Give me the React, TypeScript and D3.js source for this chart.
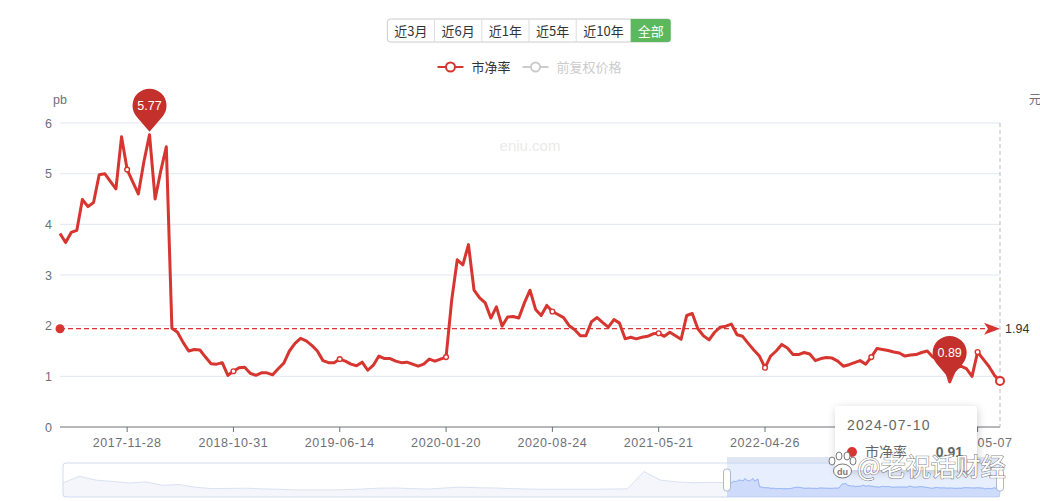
import { useEffect, useRef } from 'react';
import * as d3 from 'd3';

// ---- data ----
const rangeButtons = ['近3月', '近6月', '近1年', '近5年', '近10年', '全部'];
const activeButton = '全部';

const legendNames = ['市净率', '前复权价格'];
const activeLegend = '市净率';

const yTicks = [0, 1, 2, 3, 4, 5, 6];

// category index of each labelled tick, and its label ('' = hidden under tooltip)
const tickIndices = [12, 31, 50, 69, 88, 107, 126, 145, 164];
const tickLabels = ['2017-11-28', '2018-10-31', '2019-06-14', '2020-01-20', '2020-08-24', '2021-05-21', '2022-04-26', '', '2024-05-07'];

// PB, sampled along the visible window (evenly spaced categories)
const pbValues = [
  3.82, 3.64, 3.84, 3.88, 4.49, 4.35, 4.43, 4.98, 5.0, 4.85,
  4.7, 5.73, 5.08, 4.84, 4.6, 5.24, 5.77, 4.5, 5.05, 5.53,
  1.95, 1.87, 1.67, 1.5, 1.53, 1.52, 1.38, 1.25, 1.24, 1.27,
  1.02, 1.1, 1.17, 1.18, 1.06, 1.02, 1.07, 1.07, 1.03, 1.15,
  1.26, 1.5, 1.65, 1.75, 1.7, 1.61, 1.5, 1.31, 1.27, 1.27,
  1.34, 1.3, 1.24, 1.21, 1.28, 1.12, 1.22, 1.4, 1.35, 1.35,
  1.3, 1.27, 1.28, 1.24, 1.2, 1.24, 1.34, 1.3, 1.34, 1.38,
  2.5, 3.3, 3.2, 3.6, 2.7, 2.55, 2.45, 2.15, 2.37, 1.99,
  2.17, 2.18, 2.15, 2.45, 2.7, 2.32, 2.2, 2.4, 2.28, 2.22,
  2.16, 2.0, 1.92, 1.8, 1.8, 2.08, 2.16, 2.06, 1.97, 2.12,
  2.05, 1.74, 1.77, 1.74, 1.77, 1.79, 1.84, 1.85, 1.79, 1.87,
  1.8, 1.73, 2.2, 2.24, 1.94, 1.8, 1.72, 1.87, 1.97, 1.99,
  2.03, 1.82, 1.79, 1.65, 1.52, 1.4, 1.17, 1.4, 1.5, 1.63,
  1.56, 1.43, 1.43, 1.47, 1.44, 1.31, 1.35, 1.37, 1.36, 1.3,
  1.2, 1.23, 1.27, 1.31, 1.24, 1.38, 1.55, 1.53, 1.51, 1.48,
  1.46, 1.4, 1.42, 1.43, 1.47, 1.5, 1.38, 1.31, 1.26, 0.89,
  1.15, 1.2, 1.15, 1.0, 1.48, 1.34, 1.2, 1.02, 0.91,
];

// earlier history, only seen as the data shadow in the zoom slider
const historyPbValues = [
  3.7, 6.8, 5.0, 4.4, 3.7, 4.2, 2.6, 3.0, 1.7, 1.1,
  1.2, 1.3, 1.0, 0.8, 0.5, 0.5, 0.5, 0.6, 0.9, 1.3,
  1.4, 1.1, 0.9, 1.4, 1.8, 1.5, 1.4, 1.1, 0.9, 0.8,
  0.8, 0.8, 0.8, 0.9, 1.0, 9.0, 5.0, 4.2, 3.8, 4.0,
];

const averagePb = 1.94;
const tooltipDate = '2024-07-10';
const tooltipValue = 0.91;

export default function App() {
  const svgRef = useRef<SVGSVGElement>(null);

  useEffect(() => {
    if (!svgRef.current) return;
    const svg = d3.select(svgRef.current);
    svg.selectAll('*').remove();

    const width = 1040;
    const height = 501;
    const plot = { left: 60, right: 1000, top: 123, bottom: 427 };
    const red = '#d7352f';
    const pinRed = '#c4302b';
    const axisGrey = '#6e7079';
    const latin = 'Arial, "Liberation Sans", Helvetica, "Noto Sans CJK SC", sans-serif';
    const cjk = '"Noto Sans CJK SC", "Noto Sans", sans-serif';

    svg.attr('width', width).attr('height', height).attr('viewBox', `0 0 ${width} ${height}`)
      .style('font-family', latin).style('background', '#fff');

    const defs = svg.append('defs');
    const shadow = defs.append('filter').attr('id', 'tipShadow')
      .attr('x', '-20%').attr('y', '-30%').attr('width', '140%').attr('height', '160%');
    shadow.append('feDropShadow').attr('dx', 1).attr('dy', 2).attr('stdDeviation', 4)
      .attr('flood-color', '#000').attr('flood-opacity', 0.18);

    // Range buttons
    const btnG = svg.append('g');
    const btnBg = btnG.append('g');
    const btnTexts = rangeButtons.map(label => {
      const t = btnG.append('text').attr('y', 35.5).style('font-family', cjk).style('font-size', '13px').text(label);
      return { label, t, w: (t.node() as SVGTextElement).getComputedTextLength() + 14 };
    });
    const totalW = d3.sum(btnTexts, b => b.w);
    const btnTop = 19, btnH = 23;
    const bx0 = 529 - totalW / 2;
    btnBg.append('rect').attr('x', bx0).attr('y', btnTop).attr('width', totalW).attr('height', btnH)
      .attr('rx', 3).attr('fill', '#fff').attr('stroke', '#ccc');
    let bx = bx0;
    btnTexts.forEach((b, i) => {
      const active = b.label === activeButton;
      if (active) {
        btnBg.append('path')
          .attr('d', `M${bx},${btnTop} H${bx + b.w - 3} Q${bx + b.w},${btnTop} ${bx + b.w},${btnTop + 3} V${btnTop + btnH - 3} Q${bx + b.w},${btnTop + btnH} ${bx + b.w - 3},${btnTop + btnH} H${bx} Z`)
          .attr('fill', '#5cb85c');
      } else if (i > 0) {
        btnBg.append('line').attr('x1', bx).attr('x2', bx).attr('y1', btnTop).attr('y2', btnTop + btnH)
          .attr('stroke', '#ddd');
      }
      b.t.attr('x', bx + b.w / 2).attr('text-anchor', 'middle').attr('fill', active ? '#fff' : '#333');
      bx += b.w;
    });

    // Legend
    const legG = svg.append('g');
    const legItems = legendNames.map(name => {
      const t = legG.append('text').attr('y', 72).style('font-family', cjk).style('font-size', '13px').text(name);
      return { name, t, tw: (t.node() as SVGTextElement).getComputedTextLength() };
    });
    const legTotal = d3.sum(legItems, d => 26 + 8 + d.tw) + 12 * (legItems.length - 1);
    let lx = 529.5 - legTotal / 2;
    legItems.forEach(item => {
      const color = item.name === activeLegend ? red : '#ccc';
      legG.append('line').attr('x1', lx).attr('x2', lx + 26).attr('y1', 67).attr('y2', 67)
        .attr('stroke', color).attr('stroke-width', 2);
      legG.append('circle').attr('cx', lx + 13).attr('cy', 67).attr('r', 4.5)
        .attr('fill', '#fff').attr('stroke', color).attr('stroke-width', 2);
      item.t.attr('x', lx + 34).attr('fill', item.name === activeLegend ? '#333' : '#ccc');
      lx += 26 + 8 + item.tw + 12;
    });

    // Scales
    const x = d3.scaleLinear().domain([0, pbValues.length - 1]).range([plot.left, plot.right]);
    const y = d3.scaleLinear().domain([0, 6]).range([plot.bottom, plot.top]);

    // Grid lines
    svg.append('g').selectAll('line').data(yTicks.filter(t => t > 0)).enter().append('line')
      .attr('x1', plot.left).attr('x2', plot.right)
      .attr('y1', d => y(d)).attr('y2', d => y(d))
      .attr('stroke', '#e0e6f1');

    // Watermark
    svg.append('text').attr('x', 530).attr('y', 151).attr('text-anchor', 'middle')
      .style('font-size', '15px').attr('fill', '#ebebeb').text('eniu.com');

    // Y labels
    svg.append('g').selectAll('text').data(yTicks).enter().append('text')
      .attr('x', 52).attr('y', d => y(d)).attr('dy', '0.36em').attr('text-anchor', 'end')
      .style('font-size', '12.5px').attr('fill', axisGrey).text(d => d);
    svg.append('text').attr('x', 60).attr('y', 104).attr('text-anchor', 'middle')
      .style('font-size', '12.5px').attr('fill', axisGrey).text('pb');
    svg.append('text').attr('x', 1035).attr('y', 104).attr('text-anchor', 'middle')
      .style('font-family', cjk).style('font-size', '12.5px').attr('fill', axisGrey).text('元');

    // X axis
    svg.append('line').attr('x1', plot.left).attr('x2', plot.right).attr('y1', plot.bottom).attr('y2', plot.bottom)
      .attr('stroke', axisGrey);
    const xTicks = tickIndices.map((idx, i) => ({ idx, label: tickLabels[i] }));
    svg.append('g').selectAll('line').data(xTicks).enter().append('line')
      .attr('x1', d => x(d.idx)).attr('x2', d => x(d.idx))
      .attr('y1', plot.bottom).attr('y2', plot.bottom + 5).attr('stroke', axisGrey);
    svg.append('g').selectAll('text').data(xTicks).enter().append('text')
      .attr('x', d => x(d.idx)).attr('y', 447).attr('text-anchor', 'middle')
      .style('font-size', '12.5px').style('letter-spacing', '0.6px').attr('fill', axisGrey)
      .text(d => d.label);

    // Average mark line
    const avgY = y(averagePb);
    svg.append('line').attr('x1', plot.left).attr('x2', plot.right - 12).attr('y1', avgY).attr('y2', avgY)
      .attr('stroke', red).attr('stroke-width', 1.3).attr('stroke-dasharray', '5,3');
    svg.append('circle').attr('cx', plot.left).attr('cy', avgY).attr('r', 4.5).attr('fill', red);
    svg.append('path')
      .attr('d', `M${plot.right - 16},${avgY - 6} L${plot.right},${avgY} L${plot.right - 16},${avgY + 6} L${plot.right - 12},${avgY} Z`)
      .attr('fill', red);
    svg.append('text').attr('x', 1005).attr('y', avgY + 4.5)
      .style('font-size', '12.5px').attr('fill', '#333').text(averagePb.toFixed(2));

    // Axis pointer (hovered last point)
    const last = pbValues.length - 1;
    svg.append('line').attr('x1', x(last)).attr('x2', x(last)).attr('y1', plot.top).attr('y2', plot.bottom)
      .attr('stroke', '#bbb').attr('stroke-dasharray', '4,3');

    // PB line
    const line = d3.line<number>().x((_, i) => x(i)).y(d => y(d));
    svg.append('path').datum(pbValues).attr('d', line)
      .attr('fill', 'none').attr('stroke', red).attr('stroke-width', 3)
      .attr('stroke-linejoin', 'round');

    // symbols at labelled categories
    svg.append('g').selectAll('circle').data(tickIndices).enter().append('circle')
      .attr('cx', d => x(d)).attr('cy', d => y(pbValues[d])).attr('r', 2.4)
      .attr('fill', '#fff').attr('stroke', red).attr('stroke-width', 1.4);
    svg.append('circle').attr('cx', x(last)).attr('cy', y(pbValues[last])).attr('r', 4)
      .attr('fill', '#fff').attr('stroke', red).attr('stroke-width', 2);

    // Max / min pins
    const pinPath = () => {
      const r = 17, cy = -29, tip = -3;
      const d = tip - cy;
      const phi = Math.acos(r / d);
      const tx = r * Math.sin(phi), ty = cy + r * Math.cos(phi);
      return `M0,${tip} L${tx},${ty} A${r},${r} 0 1 0 ${-tx},${ty} Z`;
    };
    const extremes = [d3.maxIndex(pbValues), d3.minIndex(pbValues)];
    extremes.forEach(i => {
      const g = svg.append('g').attr('transform', `translate(${x(i)},${y(pbValues[i])})`);
      g.append('path').attr('d', pinPath()).attr('fill', pinRed);
      g.append('text').attr('y', -24.5).attr('text-anchor', 'middle')
        .style('font-size', '12.5px').attr('fill', '#fff').text(pbValues[i].toFixed(2));
    });

    // Zoom slider
    const sl = { left: 63, right: 1000, top: 463, bottom: 497, split: 727 };
    const hx = d3.scaleLinear().domain([0, historyPbValues.length]).range([sl.left, sl.split]);
    const mx = d3.scaleLinear().domain([0, pbValues.length - 1]).range([sl.split, sl.right]);
    const sy = d3.scaleLinear().domain([0, 12]).range([491, 465]);
    const histPts: [number, number][] = historyPbValues.map((v, i) => [hx(i), sy(v)]);
    const mainPts: [number, number][] = pbValues.map((v, i) => [mx(i), sy(v)]);
    const allPts = histPts.concat(mainPts);
    const sArea = d3.area<[number, number]>().x(d => d[0]).y0(sl.bottom).y1(d => d[1]);
    const sLine = d3.line<[number, number]>().x(d => d[0]).y(d => d[1]);
    const sg = svg.append('g');
    sg.append('rect').attr('x', sl.left).attr('y', sl.top).attr('width', sl.right - sl.left)
      .attr('height', sl.bottom - sl.top).attr('rx', 3).attr('fill', '#fff').attr('stroke', '#d2dbee');
    sg.append('path').datum(allPts).attr('d', sArea).attr('fill', '#d2dbee').attr('opacity', 0.25);
    sg.append('path').datum(allPts).attr('d', sLine).attr('fill', 'none').attr('stroke', '#d2dbee').attr('stroke-width', 0.8);
    sg.append('path').datum(mainPts).attr('d', sArea).attr('fill', '#8fb0f7').attr('opacity', 0.2);
    sg.append('path').datum(mainPts).attr('d', sLine).attr('fill', 'none').attr('stroke', '#8fb0f7').attr('stroke-width', 0.8);
    sg.append('rect').attr('x', sl.split).attr('y', sl.top).attr('width', sl.right - sl.split)
      .attr('height', sl.bottom - sl.top).attr('fill', 'rgba(135,175,255,0.2)');
    sg.append('rect').attr('x', sl.split).attr('y', sl.top - 6).attr('width', sl.right - sl.split)
      .attr('height', 6).attr('fill', '#d2dbee').attr('opacity', 0.7);
    [sl.split, sl.right].forEach(hxPos => {
      sg.append('rect').attr('x', hxPos - 3.5).attr('y', 469).attr('width', 7).attr('height', 22)
        .attr('rx', 3).attr('fill', '#fff').attr('stroke', '#acb8d1');
    });

    // Tooltip
    const tip = svg.append('g').attr('transform', 'translate(835,406)');
    tip.append('rect').attr('width', 142).attr('height', 64).attr('rx', 4)
      .attr('fill', '#fff').attr('filter', 'url(#tipShadow)');
    tip.append('text').attr('x', 12).attr('y', 24).style('font-size', '14px')
      .style('letter-spacing', '1.2px').attr('fill', '#666').text(tooltipDate);
    tip.append('circle').attr('cx', 17).attr('cy', 46).attr('r', 5).attr('fill', red);
    tip.append('text').attr('x', 30).attr('y', 51).style('font-family', cjk).style('font-size', '14px')
      .attr('fill', '#666').text(legendNames[0]);
    tip.append('text').attr('x', 128).attr('y', 51).attr('text-anchor', 'end').style('font-size', '14px')
      .style('font-weight', 'bold').attr('fill', '#666').text(tooltipValue.toFixed(2));

    // Publisher watermark
    const wm = svg.append('g');
    const paw = [[832, 461, 3], [839, 456, 3], [847, 456, 3], [853, 461, 3]];
    paw.forEach(([cx, cy, r]) => {
      wm.append('ellipse').attr('cx', cx).attr('cy', cy).attr('rx', r).attr('ry', r + 1)
        .attr('fill', '#fff').attr('stroke', '#777').attr('stroke-width', 1);
    });
    wm.append('ellipse').attr('cx', 842.5).attr('cy', 471).attr('rx', 9).attr('ry', 7)
      .attr('fill', '#fff').attr('stroke', '#777').attr('stroke-width', 1);
    wm.append('text').attr('x', 842.5).attr('y', 474.5).attr('text-anchor', 'middle')
      .style('font-size', '9px').style('font-weight', 'bold').attr('fill', '#777').text('du');
    wm.append('text').attr('x', 857).attr('y', 476).style('font-family', cjk).style('font-size', '25px')
      .attr('fill', '#fff').attr('stroke', 'rgba(70,70,70,0.65)').attr('stroke-width', 1.2)
      .style('paint-order', 'stroke').text('@老祝话财经');
  }, []);

  return (
    <div style={{ position: 'absolute', left: 0, top: 0, width: 1040, height: 501, background: '#fff' }}>
      <svg ref={svgRef} />
    </div>
  );
}
